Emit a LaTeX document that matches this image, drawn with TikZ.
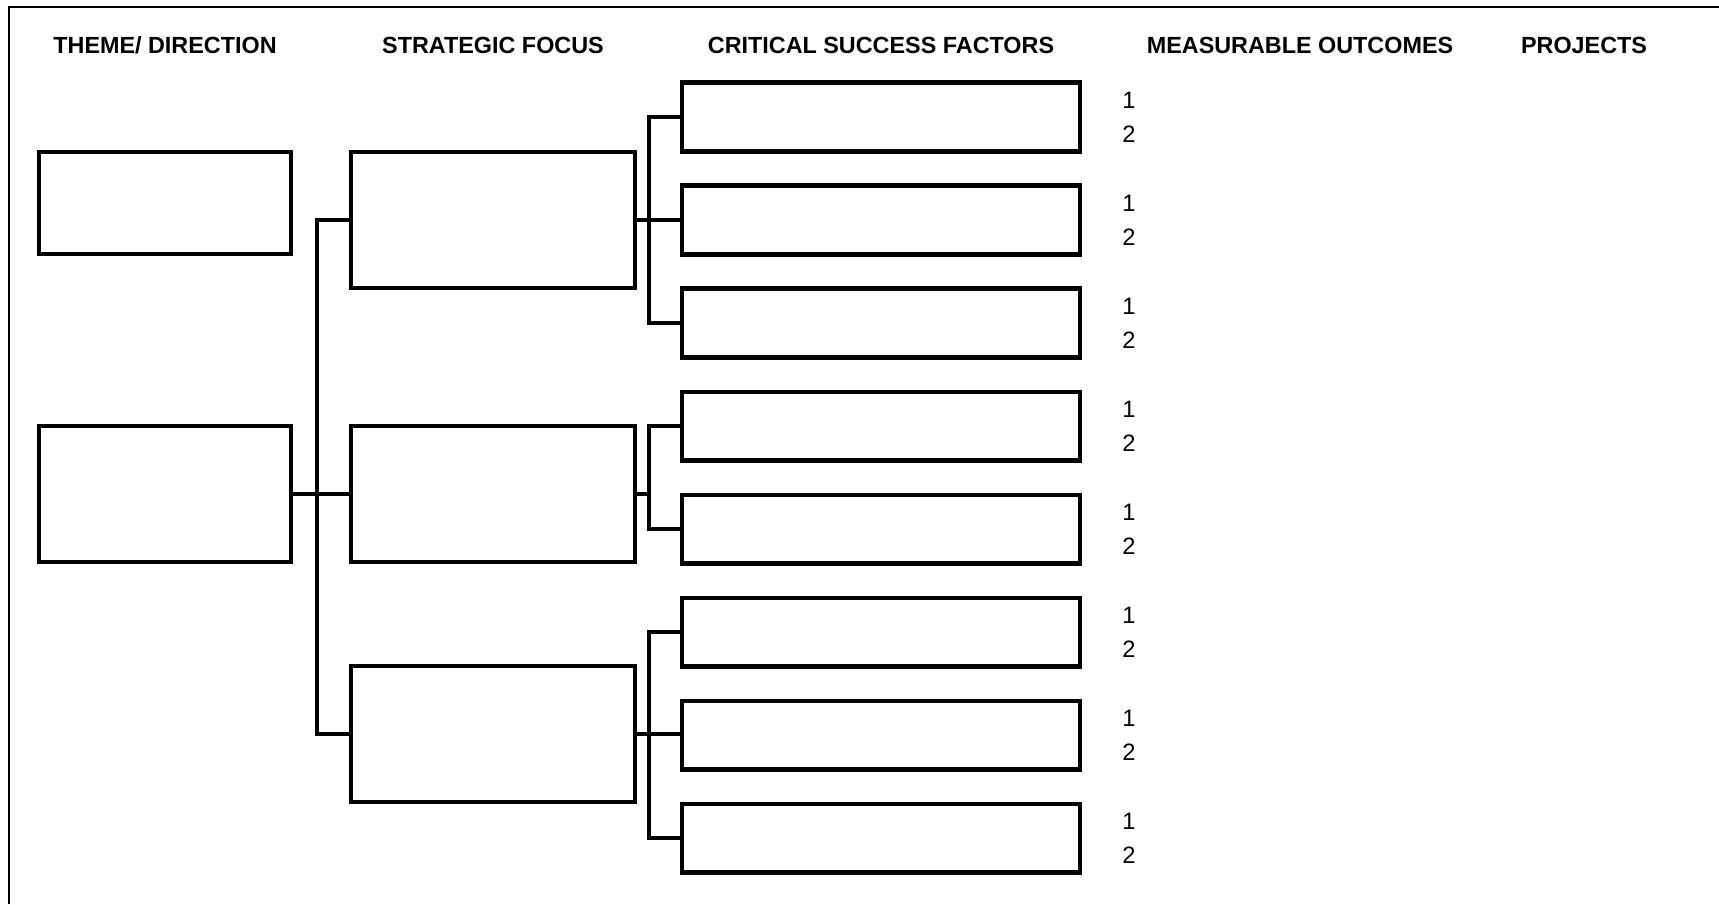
\documentclass[tikz,border=0pt]{standalone}
\usepackage{fontspec}
\setmainfont{Liberation Sans}
\usetikzlibrary{calc}

\tikzset{
  thickbox/.style={draw, rectangle, line width=2.3pt, inner sep=0pt},
  themebox/.style={thickbox, minimum width=5.04cm},
  focusbox/.style={thickbox, minimum width=5.68cm, minimum height=2.72cm},
  factorbox/.style={thickbox, minimum width=7.96cm, minimum height=1.38cm},
  link/.style={line width=2.3pt},
  heading/.style={anchor=base, font=\fontsize{13.3}{16}\selectfont\bfseries},
  outnum/.style={anchor=base, font=\fontsize{13.5}{16}\selectfont}
}

\begin{document}
\begin{tikzpicture}[x=0.02cm, y=-0.02cm]
  \useasboundingbox (0,0) rectangle (1719,904);
  % frame, only its top and left edge are in view
  \draw[line width=1.1pt] (9,904) -- (9,7) -- (1719,7);

  % column titles
  \node[heading] (hTheme) at (165,53) {THEME/ DIRECTION};
  \node[heading] (hFocus) at (493,53) {STRATEGIC FOCUS};
  \node[heading] (hFactor) at (881,53) {CRITICAL SUCCESS FACTORS};
  \node[heading] (hOutcome) at (1300,53) {MEASURABLE OUTCOMES};
  \node[heading] (hProject) at (1584,53) {PROJECTS};

  % theme / direction
  \node[themebox, minimum height=2.04cm] (td1) at (165,203) {};
  \node[themebox, minimum height=2.72cm] (td2) at (165,494) {};

  % strategic focus
  \node[focusbox] (sf1) at (493,220) {};
  \node[focusbox] (sf2) at (493,494) {};
  \node[focusbox] (sf3) at (493,734) {};

  % critical success factors, each with outcomes 1 and 2
  \foreach \i in {1,...,8} {
    \node[factorbox] (csf\i) at (881,{117+103*(\i-1)}) {};
    \node[outnum] (one\i) at ($(csf\i.center)+(248,-8.5)$) {1};
    \node[outnum] (two\i) at ($(csf\i.center)+(248,25.5)$) {2};
  }

  % theme to focus
  \draw[link] (td2.east) -- (sf2.west);
  \draw[link] (sf1.west) -- ++(-32,0) |- (sf3.west);

  % focus to factors
  \coordinate (fork2) at ($(csf4.west)+(-31,0)$);
  \draw[link] (sf1.east) -- (csf2.west);
  \draw[link] (csf1.west) -- ++(-31,0) |- (csf3.west);
  \draw[link] (sf2.east) -- (sf2.east -| fork2);
  \draw[link] (csf4.west) -- (fork2) |- (csf5.west);
  \draw[link] (sf3.east) -- (sf3.east -| csf7.west);
  \draw[link] (csf6.west) -- ++(-31,0) |- (csf8.west);
\end{tikzpicture}
\end{document}
